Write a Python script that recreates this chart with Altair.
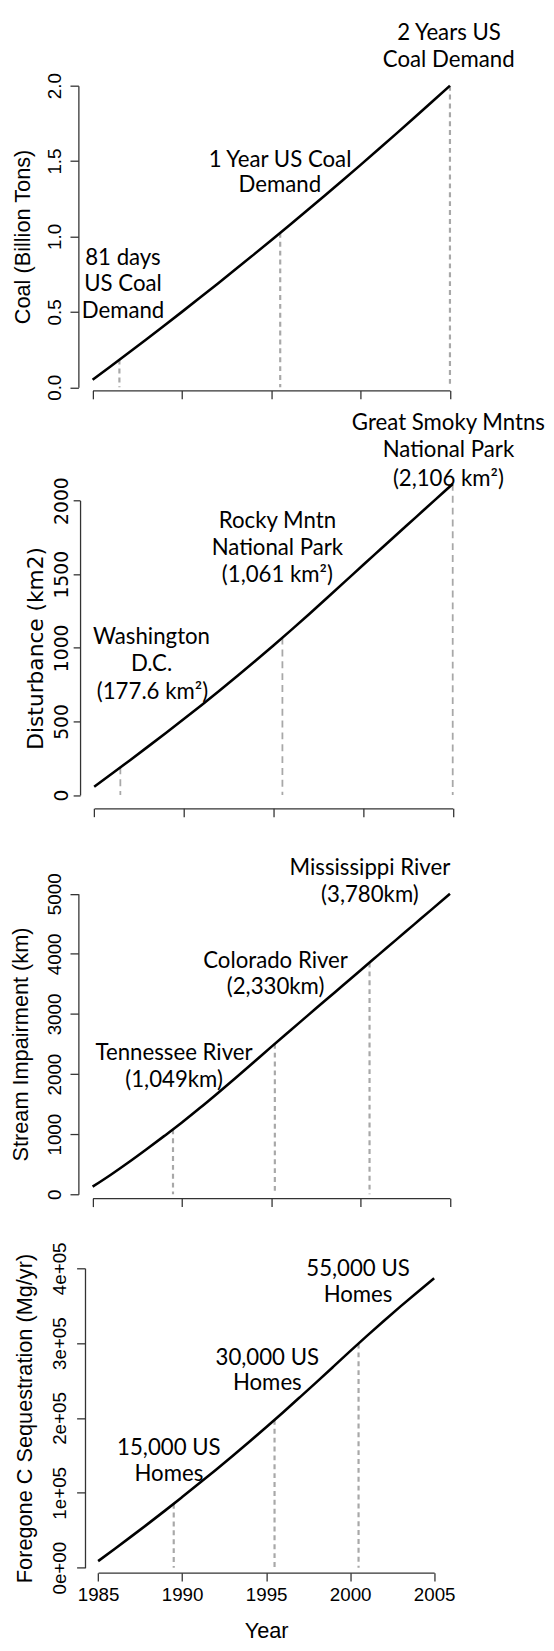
import altair as alt
import pandas as pd

# ---------------- data ----------------
YEARS = list(range(1985, 2006))
X_TICKS = [1985, 1990, 1995, 2000, 2005]

coal = [0.050, 0.138, 0.227, 0.317, 0.408, 0.500, 0.593, 0.687, 0.782, 0.878, 0.975,
        1.073, 1.172, 1.272, 1.373, 1.475, 1.578, 1.682, 1.787, 1.893, 2.000]
disturbance = [56, 146, 237, 329, 422, 516, 612, 710, 810, 912, 1016,
               1122, 1230, 1340, 1451, 1563, 1673, 1783, 1893, 2003, 2113]
stream = [126, 321, 528, 745, 967, 1194, 1434, 1682, 1935, 2192, 2453,
          2709, 2964, 3219, 3474, 3729, 3983, 4237, 4491, 4745, 5000]
carbon = [8800, 25400, 42200, 59200, 76600, 94400, 112400, 130600, 149200, 168200, 187600,
          207400, 227600, 248000, 268600, 289300, 309700, 329600, 349100, 368100, 386600]

# equivalence markers (year, value where the marker meets the curve)
coal_mark_x = [1986.5, 1995.5, 2005]
coal_mark_y = [0.183, 1.024, 2.0]
dist_mark_x = [1986.46, 1995.5, 2005]
dist_mark_y = [188, 1069, 2113]
stream_mark_x = [1989.5, 1995.2, 2000.5]
stream_mark_y = [1080, 2504, 3856]
carbon_mark_x = [1989.5, 1995.5, 2000.5]
carbon_mark_y = [85500, 197500, 299500]

# annotation lines
coal_notes = ["2 Years US", "Coal Demand", "1 Year US Coal", "Demand", "81 days", "US Coal", "Demand"]
coal_note_x = [2004.95, 2004.93, 1995.49, 1995.48, 1986.7, 1986.7, 1986.7]
coal_note_y = [2.349, 2.168, 1.507, 1.339, 0.859, 0.684, 0.503]

dist_notes = ["Great Smoky Mntns", "National Park", "(2,106 km²)",
              "Rocky Mntn", "National Park", "(1,061 km²)",
              "Washington", "D.C.", "(177.6 km²)"]
dist_note_x = [2004.76, 2004.76, 2004.76, 1995.22, 1995.22, 1995.22, 1988.2, 1988.2, 1988.25]
dist_note_y = [2525, 2340, 2145, 1864, 1680, 1495, 1073, 887, 697]

stream_notes = ["Mississippi River", "(3,780km)", "Colorado River", "(2,330km)",
                "Tennessee River", "(1,049km)"]
stream_note_x = [2000.52, 2000.52, 1995.24, 1995.24, 1989.56, 1989.56]
stream_note_y = [5420, 4972, 3888, 3440, 2344, 1900]

carbon_notes = ["55,000 US", "Homes", "30,000 US", "Homes", "15,000 US", "Homes"]
carbon_note_x = [2000.47, 2000.47, 1995.07, 1995.07, 1989.21, 1989.21]
carbon_note_y = [398700, 363600, 280000, 246200, 159200, 125300]

# ---------------- styling ----------------
AX = "#333333"
AX_FONT = "Liberation Sans"
NOTE_FONT = "Lato"
W = 536


def panel(values, mark_x, mark_y, notes, note_x, note_y, cfg):
    line_df = pd.DataFrame({"year": YEARS, "value": values})
    rule_df = pd.DataFrame({"year": mark_x, "value": mark_y})
    text_df = pd.DataFrame({"year": note_x, "value": note_y, "label": notes})

    xs = alt.Scale(domain=[1985, 2005], range=cfg["xr"], nice=False, zero=False)
    ys = alt.Scale(domain=[cfg["yt"][0], cfg["yt"][-1]], range=cfg["yr"], nice=False, zero=False)

    yax = dict(values=cfg["yt"], labelAngle=270, labelAlign="center", labelBaseline="bottom",
               labelPadding=cfg["lp"], labelFont=cfg["font"], labelFontSize=19, labelColor="black",
               labelOverlap=False, labelFlush=False,
               tickSize=cfg["ts"], tickColor=AX, tickWidth=1.3,
               domainColor=AX, domainWidth=1.3, grid=False, offset=cfg["yoff"],
               title=cfg["title"], titleFont=cfg["font"], titleFontSize=22,
               titleFontWeight="normal", titleColor="black", titleAngle=270,
               titleAlign="center", titleBaseline="alphabetic",
               titleX=cfg["tx"], titleY=(cfg["yr"][0] + cfg["yr"][1]) / 2)
    if "fmt" in cfg:
        yax["format"] = cfg["fmt"]
    else:
        yax["labelExpr"] = cfg["expr"]

    xax = dict(values=X_TICKS, labels=cfg["xl"], format="d", labelFont=AX_FONT, labelFontSize=19,
               labelColor="black", labelPadding=5, labelFlush=False, labelOverlap=False,
               tickSize=8.5, tickColor=AX, tickWidth=1.3, domainColor=AX, domainWidth=1.3,
               grid=False, offset=0,
               title="Year" if cfg["xl"] else " ", titleFont=AX_FONT, titleFontSize=22,
               titleFontWeight="normal", titleColor="black", titleAlign="center",
               titleBaseline="alphabetic",
               titleX=(cfg["xr"][0] + cfg["xr"][1]) / 2, titleY=65.7)

    def enc_x():
        return alt.X("year:Q", scale=xs, axis=alt.Axis(**xax))

    def enc_y():
        return alt.Y("value:Q", scale=ys, axis=alt.Axis(**yax))

    line = alt.Chart(line_df).mark_line(color="black", strokeWidth=2.6,
                                        interpolate="monotone").encode(x=enc_x(), y=enc_y())
    rules = alt.Chart(rule_df).mark_rule(color="#a8a8a8", strokeWidth=cfg["dw"],
                                         strokeDash=cfg["dash"]).encode(
        x=enc_x(), y=enc_y(), y2=alt.datum(0))
    text = alt.Chart(text_df).mark_text(font=NOTE_FONT, fontSize=22.5, color="black",
                                        align="center", baseline="middle").encode(
        x=enc_x(), y=enc_y(), text="label:N")
    return alt.layer(rules, line, text).properties(width=W, height=cfg["h"])


p1 = panel(coal, coal_mark_x, coal_mark_y, coal_notes, coal_note_x, coal_note_y, dict(
    xr=[84.7, 446.7], yr=[372.5, 67.0], h=375.7, yt=[0, 0.5, 1.0, 1.5, 2.0], fmt=".1f",
    yoff=-70.3, tx=-49.3, lp=5.8, ts=8.5, font=AX_FONT, title="Coal (Billion Tons)",
    xl=False, dw=2.2, dash=[5, 4]))

p2 = panel(disturbance, dist_mark_x, dist_mark_y, dist_notes, dist_note_x, dist_note_y, dict(
    xr=[86.3, 449.5], yr=[409.6, 111.3], h=423.0, yt=[0, 500, 1000, 1500, 2000], fmt="d",
    yoff=-72.0, tx=-38.3, lp=1.8, ts=7, font="DejaVu Sans", title="Disturbance (km2)",
    xl=False, dw=1.8, dash=[7, 5]))

p3 = panel(stream, stream_mark_x, stream_mark_y, stream_notes, stream_note_x, stream_note_y, dict(
    xr=[84.7, 446.7], yr=[391.0, 86.6], h=395.0, yt=[0, 1000, 2000, 3000, 4000, 5000], fmt="d",
    yoff=-70.3, tx=-51.1, lp=5.9, ts=8.5, font=AX_FONT, title="Stream Impairment (km)",
    xl=False, dw=2.2, dash=[5, 4]))

p4 = panel(carbon, carbon_mark_x, carbon_mark_y, carbon_notes, carbon_note_x, carbon_note_y, dict(
    xr=[90.3, 430.7], yr=[374.3, 71.0], h=379.3, yt=[0, 100000, 200000, 300000, 400000],
    expr="datum.value == 0 ? '0e+00' : format(datum.value / 100000, 'd') + 'e+05'",
    yoff=-77.0, tx=-54.2, lp=7.1, ts=8.5, font=AX_FONT, title="Foregone C Sequestration (Mg/yr)",
    xl=True, dw=2.2, dash=[5, 4]))

chart = alt.vconcat(p1, p2, p3, p4, spacing=0, bounds="flush").properties(
    padding=0, background="white"
).configure_view(stroke="transparent")

chart.save("out.html", embed_options={"renderer": "svg", "actions": False})
